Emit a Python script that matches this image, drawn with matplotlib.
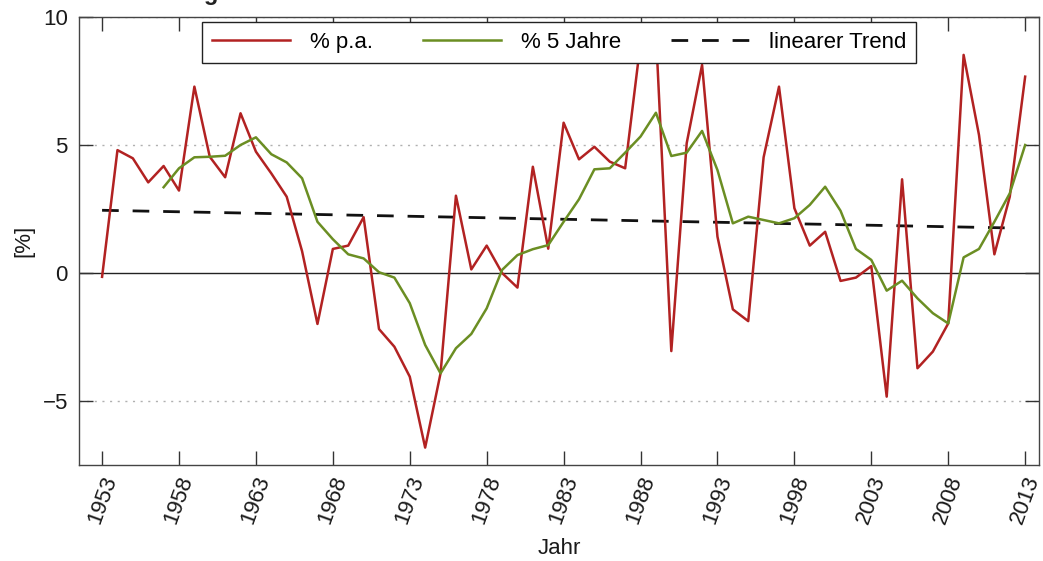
import matplotlib
matplotlib.use("Agg")
import matplotlib.pyplot as plt
import numpy as np

years = list(range(1953, 2014))
pa = [-0.15, 4.8, 4.48, 3.54, 4.18, 3.22, 7.28, 4.54, 3.74, 6.24,
      4.74, 3.89, 2.98, 0.85, -1.99, 0.94, 1.07, 2.18, -2.19, -2.88,
      -4.05, -6.82, -3.92, 3.02, 0.14, 1.07, 0.0, -0.57, 4.15, 0.95,
      5.87, 4.44, 4.93, 4.35, 4.09, 9.0, 9.4, -3.05, 5.07, 8.13,
      1.42, -1.42, -1.88, 4.52, 7.28, 2.53, 1.07, 1.61, -0.31, -0.18,
      0.27, -4.83, 3.66, -3.72, -3.07, -1.97, 8.52, 5.39, 0.73, 2.98,
      7.67]
years5 = list(range(1957, 2014))
five = [3.35, 4.09, 4.52, 4.54, 4.58, 5.0, 5.3, 4.64, 4.32, 3.7,
        2.0, 1.32, 0.73, 0.57, 0.03, -0.18, -1.18, -2.81, -3.92, -2.94,
        -2.38, -1.38, 0.12, 0.7, 0.93, 1.09, 2.0, 2.88, 4.05, 4.09,
        4.7, 5.33, 6.26, 4.57, 4.7, 5.55, 4.02, 1.94, 2.2, 2.07,
        1.94, 2.14, 2.66, 3.37, 2.43, 0.94, 0.51, -0.69, -0.3, -0.99,
        -1.57, -1.97, 0.61, 0.94, 2.0, 3.11, 5.0]
trend_years = [1953, 2012]
trend_vals = [2.45, 1.76]
xticks = list(range(1953, 2014, 5))
yticks = [-5, 0, 5, 10]

plt.rcParams['font.family'] = ['Liberation Sans', 'DejaVu Sans']
plt.rcParams['axes.unicode_minus'] = True

FS = 16
fig = plt.figure(figsize=(10.43, 5.61), dpi=100)
ax = fig.add_axes([79/1043, 1-465/561, 960/1043, 448/561])

for y in [-5, 5, 10]:
    ax.axhline(y, color='#b0b0b0', lw=1.0, ls=(0, (1.5, 4)), zorder=0)
ax.axhline(0, color='#222222', lw=1.0, zorder=1)

ax.plot(years, pa, color='#B22222', lw=1.8, label='% p.a.', zorder=3)
ax.plot(years5, five, color='#6B8E23', lw=1.8, label='% 5 Jahre', zorder=3)
ax.plot(trend_years, trend_vals, color='#111111', lw=2.0, ls=(0, (6, 5)),
        label='linearer Trend', zorder=2)

ax.set_xlim(1951.5, 2013.9)
ax.set_ylim(-7.5, 10)
ax.set_xticks(xticks)
ax.set_xticklabels([str(v) for v in xticks], rotation=70, ha='center')
ax.set_yticks(yticks)
ax.tick_params(axis='both', direction='in', length=10, width=1.0,
               labelsize=FS, top=True, right=True, colors='#333333',
               labelcolor='#1a1a1a')
ax.tick_params(axis='x', pad=6)
ax.tick_params(axis='y', pad=8)
for s in ax.spines.values():
    s.set_color('#444444')
    s.set_linewidth(1.0)

ax.set_xlabel('Jahr', fontsize=FS, color='#1a1a1a', labelpad=8)
ax.set_ylabel('[%]', fontsize=FS, color='#1a1a1a', labelpad=6)

leg = ax.legend(loc='upper center', bbox_to_anchor=(0.5, 0.989), ncol=3,
                fontsize=FS, frameon=True, fancybox=False, framealpha=1,
                edgecolor='#222222', handlelength=3.5, handletextpad=0.9,
                columnspacing=2.25, borderaxespad=0, borderpad=0.45)
leg.get_frame().set_linewidth(1.0)

fig.text(219/1043, 1.0, 'Lohnentwicklung', ha='right', va='baseline',
         fontsize=17, fontweight='bold', color='#222222')

fig.savefig('out.png', dpi=100)
